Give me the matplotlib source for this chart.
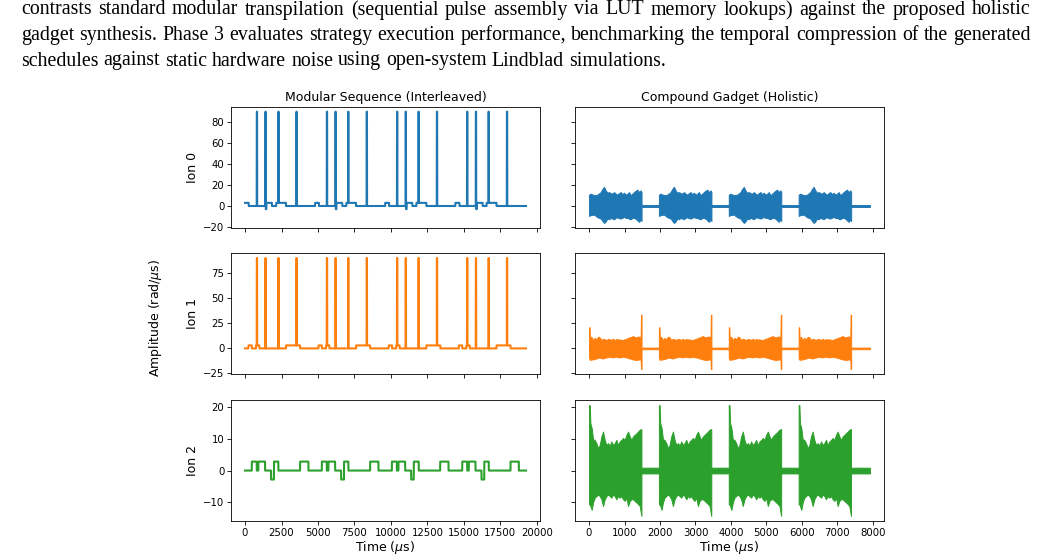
import numpy as np
import matplotlib.pyplot as plt

W, H = 1041, 559

# paragraph from the page above the figure
para_lines = [
    "contrasts standard modular transpilation (sequential pulse assembly via LUT memory lookups) against the proposed holistic",
    "gadget synthesis. Phase 3 evaluates strategy execution performance, benchmarking the temporal compression of the generated",
    "schedules against static hardware noise using open-system Lindblad simulations.",
]

ion_names = ["Ion 0", "Ion 1", "Ion 2"]
colors = ["#1f77b4", "#ff7f0e", "#2ca02c"]

# ---- modular sequence (interleaved), times in us ----
mod_end = 19250
spike_height = 90
spike_width = 25

ion0_spikes = [800, 1390, 2280, 3515, 5600, 6190, 7060, 8330,
               10410, 11000, 11880, 13140, 15210, 15810, 16680, 17940]
ion0_steps = [(0, 250, 3), (1390, 1460, -3), (1460, 1840, 3), (2130, 2800, 3),
              (4800, 5060, 3), (6190, 6260, -3), (6260, 6660, 3), (6940, 7600, 3),
              (9600, 9870, 3), (11000, 11070, -3), (11070, 11460, 3), (11740, 12420, 3),
              (14410, 14690, 3), (15810, 15880, -3), (15880, 16280, 3), (16550, 17230, 3)]

ion1_spikes = ion0_spikes
ion1_steps = [(230, 460, 3), (750, 980, 3), (2810, 3770, 3),
              (5030, 5260, 3), (5550, 5780, 3), (7610, 8570, 3),
              (9840, 10070, 3), (10360, 10590, 3), (12420, 13380, 3),
              (14650, 14880, 3), (15170, 15400, 3), (17230, 18190, 3)]

ion2_spikes = []
ion2_steps = [(460, 800, 2.8), (910, 1370, 2.8), (1780, 1980, -2.8), (1980, 2280, 2.8), (3770, 4340, 2.8),
              (5260, 5600, 2.8), (5710, 6170, 2.8), (6580, 6780, -2.8), (6780, 7080, 2.8), (8570, 9140, 2.8),
              (10060, 10400, 2.8), (10510, 10970, 2.8), (11380, 11560, -2.8), (11560, 11900, 2.8), (13370, 13940, 2.8),
              (14880, 15220, 2.8), (15330, 15790, 2.8), (16200, 16390, -2.8), (16390, 16700, 2.8), (18190, 18760, 2.8)]

# ---- compound gadget (holistic): one gadget envelope per ion, repeated at block starts ----
block_starts = [0, 1970, 3940, 5910]
gadget_end = 7920

ion0_env_t = [0, 47, 141, 235, 329, 376, 423, 470, 517, 564, 611, 658, 705, 752, 799,
              846, 893, 940, 987, 1034, 1081, 1128, 1175, 1222, 1269, 1316, 1363, 1410, 1457, 1480]
ion0_env_hi = [10.8, 11.8, 10.3, 10.8, 13.3, 16.3, 18.3, 14.9, 12.7, 13.3, 12.3, 11.8, 13.3, 11.8, 10.8,
               12.3, 13.3, 11.3, 12.7, 10.8, 11.8, 13.3, 10.3, 11.8, 13.3, 14.6, 15.6, 13.3, 14.9, 13.3]
ion0_env_lo = [-9.5, -8.7, -8.2, -10.7, -12, -14.2, -16.2, -14.7, -12, -12.7, -11.4, -12, -12.7, -11.2, -10.9,
               -11.7, -12, -11.2, -10.5, -11.4, -11.4, -12.2, -12.7, -11.4, -11.4, -12.2, -13.7, -15.2, -12.7, -14.2]
ion0_flat = 0.9

ion1_env_t = [0, 15, 25, 66, 113, 160, 207, 254, 301, 348, 395, 442, 489, 536, 583, 630, 677, 724,
              771, 818, 865, 912, 959, 1006, 1053, 1100, 1147, 1194, 1241, 1288, 1335, 1382, 1429, 1455, 1465, 1480]
ion1_env_hi = [21, 21, 10, 11.6, 8.3, 10.5, 9, 11.6, 11, 8.3, 9.6, 9, 8.3, 9.5, 9, 8.6, 9.6, 8.3,
               9.3, 8.8, 9, 8.5, 8.3, 9.2, 9.6, 10.4, 11, 11.6, 12.3, 11.2, 11, 11.8, 11.6, 11.6, 33.5, 33.5]
ion1_env_lo = [-10, -10, -11.6, -11, -11, -10.5, -10, -9.5, -9, -9.8, -10, -9.4, -9, -8.6, -8.3, -8.8, -9, -8.5,
               -8.3, -8.8, -9, -8.6, -8.3, -8.8, -9, -9.5, -10, -10.5, -11, -11.3, -11.6, -11.2, -11, -11, -20.5, -20.5]
ion1_flat = 0.8

ion2_env_t = [0, 20, 38, 75, 113, 160, 207, 254, 301, 348, 395, 442, 489, 536, 583, 630, 677,
              724, 771, 818, 865, 912, 959, 1006, 1053, 1100, 1147, 1194, 1241, 1288, 1335, 1382, 1429, 1476]
ion2_env_hi = [20.5, 20.5, 14.8, 13.3, 9.8, 9.6, 8.6, 7.0, 8.0, 10.7, 12.2, 9.6, 8.0, 8.6, 7.8, 9.1, 8.0,
               8.6, 9.6, 8.0, 9.1, 9.6, 10.2, 9.6, 11.2, 12.2, 10.7, 9.6, 10.7, 11.2, 11.7, 12.2, 12.8, 13.0]
ion2_env_lo = [-10.6, -10.6, -11.1, -12.3, -10.0, -8.5, -8.0, -7.5, -8.0, -9.0, -11.1, -9.0, -8.0, -7.5, -8.0, -8.5, -7.5,
               -8.0, -9.0, -8.0, -8.5, -8.0, -9.0, -9.5, -8.5, -11.1, -9.5, -9.0, -9.0, -9.5, -10.0, -10.5, -11.1, -14.2]
ion2_flat = 0.9

modular = [(ion0_steps, ion0_spikes), (ion1_steps, ion1_spikes), (ion2_steps, ion2_spikes)]
gadget = [(ion0_env_t, ion0_env_hi, ion0_env_lo, ion0_flat),
          (ion1_env_t, ion1_env_hi, ion1_env_lo, ion1_flat),
          (ion2_env_t, ion2_env_hi, ion2_env_lo, ion2_flat)]

row_ylims = [(-21, 94.5), (-25.5, 95), (-15.8, 22.1)]


def step_trace(steps, spikes):
    t = np.arange(0, mod_end + 1)
    v = np.zeros(len(t))
    for a, b, val in steps:
        v[a:b] = val
    for s in spikes:
        v[s:s + spike_width] = spike_height
    return t, v


def gadget_trace(env_t, hi, lo, flat):
    ts, up, dn = [], [], []
    for i, s in enumerate(block_starts):
        ts += [s + x for x in env_t]
        up += hi
        dn += lo
        g0 = s + env_t[-1] + 1
        g1 = block_starts[i + 1] - 1 if i + 1 < len(block_starts) else gadget_end
        ts += [g0, g1]
        up += [flat, flat]
        dn += [-flat, -flat]
    return np.array(ts), np.array(up), np.array(dn)


plt.rcParams['font.family'] = 'DejaVu Sans'
plt.rcParams['axes.linewidth'] = 0.6

fig = plt.figure(figsize=(W / 100, H / 100), dpi=100)

ax_w = 309 / W
ax_h = 121 / H
lefts = [231 / W, 575 / W]
bottoms = [1 - 228 / H, 1 - 374 / H, 1 - 521 / H]

axes = [[None, None] for _ in range(3)]
for r in range(3):
    for c in range(2):
        ax = fig.add_axes([lefts[c], bottoms[r], ax_w, ax_h])
        axes[r][c] = ax

for r in range(3):
    axl, axr = axes[r]
    t, v = step_trace(*modular[r])
    axl.plot(t, v, color=colors[r], lw=1.5)
    gt, gu, gd = gadget_trace(*gadget[r])
    axr.fill_between(gt, gd, gu, color=colors[r], lw=0.7)
    axl.set_xlim(-0.05 * mod_end, 1.05 * mod_end)
    axr.set_xlim(-0.05 * gadget_end, 1.05 * gadget_end)
    for ax in (axl, axr):
        ax.set_ylim(*row_ylims[r])
        ax.tick_params(length=2.6, width=0.6, labelsize=7.3, pad=2.2)
    axr.set_yticks(axl.get_yticks())
    axr.set_ylim(*row_ylims[r])
    axr.tick_params(labelleft=False)
    axl.set_ylabel(ion_names[r], fontsize=9, labelpad=3)
    if r < 2:
        axl.tick_params(labelbottom=False)
        axr.tick_params(labelbottom=False)
    else:
        axl.set_xlabel(r'Time ($\mu$s)', fontsize=9, labelpad=1)
        axr.set_xlabel(r'Time ($\mu$s)', fontsize=9, labelpad=1)

axes[0][0].set_title('Modular Sequence (Interleaved)', fontsize=9, pad=4)
axes[0][1].set_title('Compound Gadget (Holistic)', fontsize=9, pad=4)
axes[0][0].set_yticks([-20, 0, 20, 40, 60, 80])
axes[0][1].set_yticks([-20, 0, 20, 40, 60, 80])
for ax in axes[0]:
    ax.set_ylim(*row_ylims[0])
axes[2][0].set_xticks([0, 2500, 5000, 7500, 10000, 12500, 15000, 17500, 20000])
axes[2][0].set_xlim(-0.05 * mod_end, 1.05 * mod_end)
for r in range(2):
    axes[r][0].set_xticks(axes[2][0].get_xticks())
    axes[r][0].set_xlim(-0.05 * mod_end, 1.05 * mod_end)
for r in range(3):
    axes[r][1].set_xticks([0, 1000, 2000, 3000, 4000, 5000, 6000, 7000, 8000])
    axes[r][1].set_xlim(-0.05 * gadget_end, 1.05 * gadget_end)

fig.text(155 / W, 1 - 318 / H, r'Amplitude (rad/$\mu$s)', rotation=90,
         ha='center', va='center', fontsize=9)

# justified paragraph lines
renderer = fig.canvas.get_renderer()
para_size = 14.3
x0, x1 = 21, 1031
baselines = [14.5, 40, 65.5]
for i, line in enumerate(para_lines):
    words = line.split()
    texts = [fig.text(0, 1 - baselines[i] / H, w, fontsize=para_size,
                      family='Liberation Serif', va='baseline', ha='left') for w in words]
    widths = [tx.get_window_extent(renderer).width for tx in texts]
    if i < len(para_lines) - 1:
        gap = (x1 - x0 - sum(widths)) / (len(words) - 1)
    else:
        gap = 0.25 * para_size * 100 / 72
    x = x0
    for tx, w in zip(texts, widths):
        tx.set_x(x / W)
        x += w + gap

fig.savefig('out.png', dpi=100)
